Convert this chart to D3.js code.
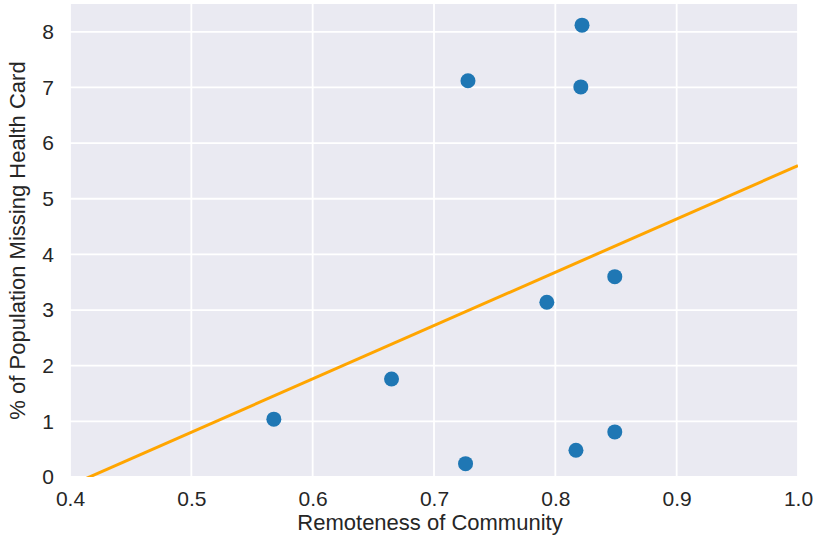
<!DOCTYPE html>
<html>
<head>
<meta charset="utf-8">
<script src="https://cdn.jsdelivr.net/npm/d3@7"></script>
<style>
    html, body { margin: 0; padding: 0; background: #ffffff; }
    svg text { font-family: "Liberation Sans", Arial, sans-serif; fill: #262626; }
</style>
</head>
<body>
<svg id="chart" width="816" height="544"></svg>
<script>
(function() {
    'use strict';

    // values
    var remoteness = [0.568, 0.665, 0.726, 0.728, 0.793, 0.817, 0.821, 0.822, 0.849, 0.849];
    var missingCard = [1.04, 1.76, 0.24, 7.12, 3.14, 0.48, 7.01, 8.12, 3.60, 0.81];
    var xTicks = [0.4, 0.5, 0.6, 0.7, 0.8, 0.9, 1.0];
    var yTicks = [0, 1, 2, 3, 4, 5, 6, 7, 8];

    var margin = {top: 4, right: 18, bottom: 67, left: 70};
    var width = 816 - margin.left - margin.right;
    var height = 544 - margin.top - margin.bottom;

    var svg = d3.select("#chart");
    var g = svg.append("g").attr("transform", "translate(" + margin.left + "," + margin.top + ")");

    var x = d3.scaleLinear().domain([0.4, 1.0]).range([0, width]);
    var y = d3.scaleLinear().domain([0, 8.5]).range([height, 0]);

    g.append("rect").attr("width", width).attr("height", height).attr("fill", "#eaeaf2");

    g.append("clipPath").attr("id", "plotClip")
        .append("rect").attr("width", width).attr("height", height);

    // grid
    g.selectAll("line.gx").data(xTicks).enter().append("line")
        .attr("class", "gx")
        .attr("x1", function(d) { return x(d); }).attr("x2", function(d) { return x(d); })
        .attr("y1", 0).attr("y2", height)
        .attr("stroke", "#ffffff").attr("stroke-width", 1.8);
    g.selectAll("line.gy").data(yTicks).enter().append("line")
        .attr("class", "gy")
        .attr("x1", 0).attr("x2", width)
        .attr("y1", function(d) { return y(d); }).attr("y2", function(d) { return y(d); })
        .attr("stroke", "#ffffff").attr("stroke-width", 1.8);

    // axes (labels only, no domain lines)
    var xAxis = g.append("g").attr("transform", "translate(0," + height + ")")
        .call(d3.axisBottom(x).tickValues(xTicks).tickSize(0).tickPadding(14).tickFormat(d3.format(".1f")));
    var yAxis = g.append("g")
        .call(d3.axisLeft(y).tickValues(yTicks).tickSize(0).tickPadding(16).tickFormat(d3.format("d")));
    [xAxis, yAxis].forEach(function(a) {
        a.select(".domain").remove();
        a.selectAll("text").style("font-size", "21px").attr("fill", "#262626");
    });

    // least squares fit of the points
    var mx = d3.mean(remoteness), my = d3.mean(missingCard);
    var sxy = d3.sum(remoteness, function(v, i) { return (v - mx) * (missingCard[i] - my); });
    var sxx = d3.sum(remoteness, function(v) { return (v - mx) * (v - mx); });
    var slope = sxy / sxx, intercept = my - slope * mx;
    var fitX = x.domain();

    g.append("path")
        .datum(fitX)
        .attr("clip-path", "url(#plotClip)")
        .attr("fill", "none")
        .attr("stroke", "#ffa500")
        .attr("stroke-width", 3)
        .attr("d", d3.line()
            .x(function(d) { return x(d); })
            .y(function(d) { return y(slope * d + intercept); }));

    g.selectAll("circle.pt").data(remoteness).enter().append("circle")
        .attr("class", "pt")
        .attr("cx", function(d) { return x(d); })
        .attr("cy", function(d, i) { return y(missingCard[i]); })
        .attr("r", 7.5)
        .attr("fill", "#1f77b4");

    svg.append("text")
        .attr("x", margin.left + width / 2 - 4)
        .attr("y", 530)
        .attr("text-anchor", "middle")
        .style("font-size", "22px")
        .text("Remoteness of Community");

    svg.append("text")
        .attr("transform", "translate(25," + (margin.top + height / 2) + ") rotate(-90)")
        .attr("text-anchor", "middle")
        .style("font-size", "22px")
        .text("% of Population Missing Health Card");
})();
</script>
</body>
</html>
